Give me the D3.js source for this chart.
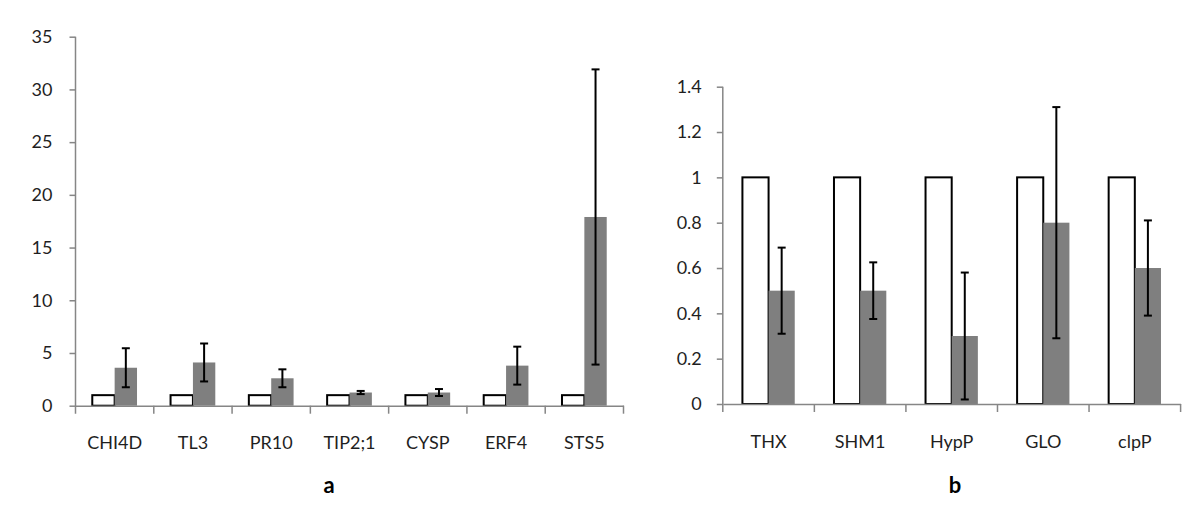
<!DOCTYPE html>
<html>
<head>
<meta charset="utf-8">
<script src="https://cdn.jsdelivr.net/npm/d3@7"></script>
<style>
  body { margin: 0; background: #fff; }
  text { font-family: Lato, "Open Sans", sans-serif; fill: #1f1f1f; }
</style>
</head>
<body>
<div id="chart"></div>
<script>
// panel a
let genesA = ["CHI4D", "TL3", "PR10", "TIP2;1", "CYSP", "ERF4", "STS5"];
let controlA = [1, 1, 1, 1, 1, 1, 1];
let treatedA = [3.6, 4.1, 2.6, 1.25, 1.25, 3.8, 17.9];
let errorA = [1.85, 1.8, 0.85, 0.15, 0.33, 1.8, 14.0];
let ticksA = [0, 5, 10, 15, 20, 25, 30, 35];

// panel b
let genesB = ["THX", "SHM1", "HypP", "GLO", "clpP"];
let controlB = [1, 1, 1, 1, 1];
let treatedB = [0.5, 0.5, 0.3, 0.8, 0.6];
let errorB = [0.19, 0.125, 0.28, 0.51, 0.21];
let ticksB = [0, 0.2, 0.4, 0.6, 0.8, 1, 1.2, 1.4];

let svg = d3.select("#chart")
    .append("svg")
        .attr("width", 1200)
        .attr("height", 530);

function drawPanel(opt) {
    let g = svg.append("g");

    let x = d3.scaleBand()
        .domain(opt.genes)
        .range([opt.left, opt.right]);

    let y = d3.scaleLinear()
        .domain([0, opt.max])
        .range([opt.bottom, opt.top]);

    // bars: 150% gap, two series side by side
    let bw = x.bandwidth() / 3.5;
    let off = bw * 0.75;

    g.selectAll(".ctrl")
        .data(opt.genes)
        .enter()
        .append("rect")
            .attr("x", d => x(d) + off)
            .attr("y", (d, i) => y(opt.control[i]))
            .attr("width", bw)
            .attr("height", (d, i) => y(0) - y(opt.control[i]))
            .style("fill", "#fff")
            .style("stroke", "#000")
            .style("stroke-width", 2);

    g.selectAll(".trt")
        .data(opt.genes)
        .enter()
        .append("rect")
            .attr("x", d => x(d) + off + bw)
            .attr("y", (d, i) => y(opt.treated[i]))
            .attr("width", bw)
            .attr("height", (d, i) => y(0) - y(opt.treated[i]))
            .style("fill", "#7f7f7f");

    // error bars
    let cx = d => x(d) + off + bw * 1.5;
    let eb = g.append("g")
        .selectAll("g")
        .data(opt.genes)
        .enter()
        .append("g")
            .style("stroke", "#000")
            .style("stroke-width", 2);
    eb.append("line")
        .attr("x1", cx).attr("x2", cx)
        .attr("y1", (d, i) => y(opt.treated[i] + opt.err[i]))
        .attr("y2", (d, i) => y(opt.treated[i] - opt.err[i]));
    eb.append("line")
        .attr("x1", d => cx(d) - 4).attr("x2", d => cx(d) + 4)
        .attr("y1", (d, i) => y(opt.treated[i] + opt.err[i]))
        .attr("y2", (d, i) => y(opt.treated[i] + opt.err[i]));
    eb.append("line")
        .attr("x1", d => cx(d) - 4).attr("x2", d => cx(d) + 4)
        .attr("y1", (d, i) => y(opt.treated[i] - opt.err[i]))
        .attr("y2", (d, i) => y(opt.treated[i] - opt.err[i]));

    // y axis
    let yAxis = g.append("g")
        .attr("transform", "translate(" + opt.left + ",0)")
        .call(d3.axisLeft(y).tickValues(opt.ticks).tickSize(6).tickPadding(opt.pad).tickFormat(d3.format("")));
    yAxis.selectAll("line, path").style("stroke", "#868686").style("stroke-width", 1.5);
    yAxis.select("path").attr("d", "M0," + opt.top + "V" + (opt.bottom + 8));
    yAxis.selectAll("text").style("font-size", "18px").style("fill", "#1f1f1f");

    // x axis, ticks between categories
    let xAxis = g.append("g")
        .attr("transform", "translate(0," + opt.bottom + ")")
        .call(d3.axisBottom(x).tickSize(0).tickPadding(31));
    xAxis.select("path").style("stroke", "#868686").style("stroke-width", 1.5);
    xAxis.selectAll("text").style("font-size", "18px").style("fill", "#1f1f1f");
    xAxis.append("g")
        .selectAll("line")
        .data(opt.genes.slice(1).concat([null]))
        .enter()
        .append("line")
            .attr("x1", d => d === null ? opt.right : x(d))
            .attr("x2", d => d === null ? opt.right : x(d))
            .attr("y1", 0).attr("y2", 8)
            .style("stroke", "#868686")
            .style("stroke-width", 1.5);

    // panel letter
    g.append("text")
        .attr("x", opt.labelX)
        .attr("y", 493)
        .attr("text-anchor", "middle")
        .style("font-weight", "bold")
        .style("font-size", "22px")
        .style("fill", "#000")
        .text(opt.letter);
}

drawPanel({genes: genesA, control: controlA, treated: treatedA, err: errorA, ticks: ticksA,
    max: 35, left: 75.5, right: 623.5, top: 36.7, bottom: 405.7, pad: 17, labelX: 329, letter: "a"});

drawPanel({genes: genesB, control: controlB, treated: treatedB, err: errorB, ticks: ticksB,
    max: 1.4, left: 722.8, right: 1180.6, top: 86.7, bottom: 404, pad: 15, labelX: 955, letter: "b"});
</script>
</body>
</html>
